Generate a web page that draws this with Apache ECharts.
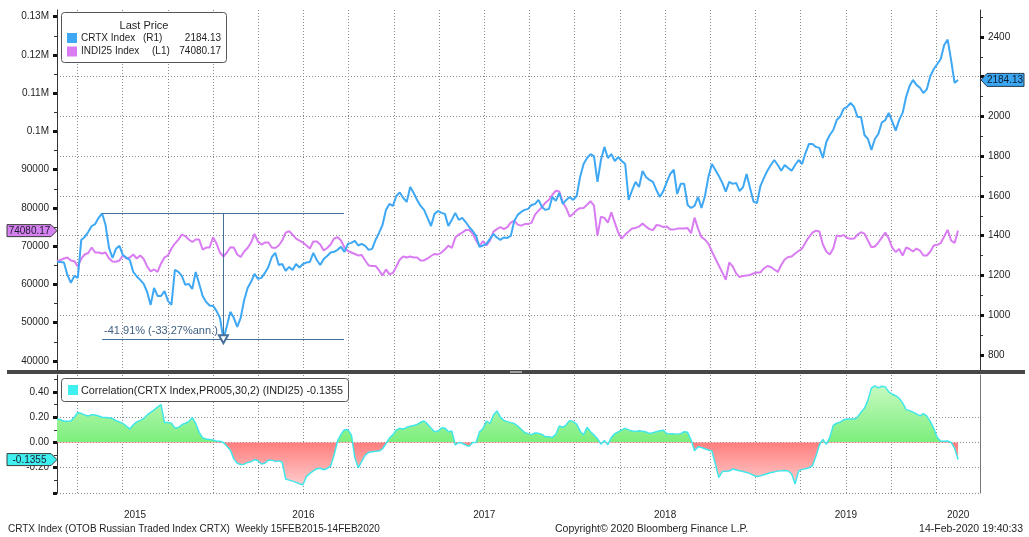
<!DOCTYPE html>
<html><head><meta charset="utf-8">
<script src="https://cdn.jsdelivr.net/npm/echarts@6/dist/echarts.min.js"></script>
<style>html,body{margin:0;padding:0;background:#fff}#c{width:1029px;height:537px}</style>
</head><body><div id="c"></div>
<script>
// ---------- DATA (weekly, Fridays) ----------
const firstWeek = '2015-02-20';
const crtx = [1268,1268,1265,1203,1163,1198,1188,1379,1394,1419,
1449,1459,1490,1513,1454,1339,1288,1334,1349,1303,
1290,1278,1218,1195,1178,1158,1117,1052,1137,1097,
1097,1122,1072,1052,1228,1218,1198,1153,1158,1132,
1218,1158,1097,1067,1049,1047,1022,987,879,946,
1017,987,941,987,1077,1137,1168,1208,1183,1188,
1213,1243,1293,1314,1253,1258,1224,1243,1228,1258,
1240,1258,1265,1268,1314,1278,1253,1283,1298,1316,
1319,1329,1344,1319,1359,1364,1374,1351,1359,1349,
1329,1334,1379,1414,1454,1530,1560,1550,1600,1618,
1590,1570,1645,1615,1580,1550,1530,1490,1449,1510,
1525,1515,1510,1449,1480,1515,1480,1490,1469,1444,
1424,1399,1344,1351,1359,1384,1409,1391,1379,1391,
1389,1399,1474,1505,1520,1530,1535,1555,1560,1580,
1545,1530,1535,1595,1575,1615,1560,1580,1595,1580,
1600,1696,1761,1791,1811,1801,1671,1781,1847,1791,
1811,1776,1796,1776,1761,1580,1630,1671,1645,1726,
1696,1681,1671,1630,1595,1625,1671,1711,1733,1610,
1661,1661,1555,1540,1550,1595,1540,1600,1696,1761,
1731,1701,1666,1622,1671,1661,1666,1625,1645,1711,
1640,1572,1565,1650,1691,1727,1756,1781,1756,1727,
1756,1741,1727,1756,1781,1761,1816,1862,1862,1847,
1842,1791,1872,1907,1932,1982,2000,2038,2048,2068,
2048,1998,1998,1907,1887,1832,1887,1912,1970,1982,
2018,1975,1929,1982,2018,2098,2153,2184,2159,2145,
2118,2138,2204,2239,2264,2289,2360,2387,2284,2169,
2184.13];
const indi25 = [66017,66407,66798,67058,66277,66095,64715,66798,67839,68230,
69662,68360,68360,68100,68360,66798,66017,65938,66277,67579,
66798,67058,67839,66798,67579,66668,64715,63413,63933,63282,
65496,67058,67579,69402,70704,71745,73047,72657,71745,71094,
71745,71745,69141,69662,69662,72344,70704,68360,67319,68360,
69740,69662,67839,67188,68621,69532,70964,73230,71225,70443,
70964,70964,69662,69532,70183,71485,73568,73907,73047,72006,
71485,70964,70183,69402,71225,71225,70443,68881,69532,70443,
72006,72396,71485,69662,68751,68360,67970,67579,67709,66277,
64975,64845,64845,63673,62371,63933,62631,63022,64715,66537,
67319,67058,67319,67058,67058,66277,66277,66798,67449,67970,
67839,68360,69141,70183,69532,72266,73047,73568,74219,74219,
73308,71485,70053,71355,70183,71485,73829,74480,75000,74480,
75000,76172,76693,75651,75391,75782,75782,76172,78255,79297,
80208,81380,82161,83463,84505,84323,81510,79948,77735,78516,
79427,79948,80000,80859,81771,80599,72787,77735,77396,76172,
78854,76172,73568,72006,73047,73829,74610,74792,75131,75912,
75131,74480,74219,75521,75391,75000,75131,74349,74349,74610,
74610,74610,74740,73386,77474,74610,72396,71745,70704,68621,
66798,64975,63152,61251,65756,64715,62892,61928,62241,62371,
62501,62892,63152,63152,64194,64845,64584,63933,63282,65105,
66537,67188,67319,68100,68751,69402,70964,72396,73568,74089,
73829,70443,68621,67839,69402,72787,72605,72917,72136,71928,
72006,73047,73646,73308,71485,69740,69923,70964,72266,73568,
72006,69662,68490,69272,67579,69662,69272,68621,69402,68881,
67579,67579,68621,70183,70365,70834,72527,74271,71485,70834,
74080.17];
const corr = [0.185,0.18,0.168,0.168,0.17,0.2,0.237,0.23,0.218,0.21,
0.22,0.218,0.21,0.2,0.198,0.195,0.19,0.172,0.163,0.15,
0.13,0.106,0.14,0.163,0.175,0.19,0.218,0.238,0.258,0.28,
0.3,0.158,0.158,0.153,0.114,0.118,0.14,0.152,0.165,0.198,
0.15,0.08,0.036,0.028,0.023,0.019,0.01,0.01,0,-0.03,
-0.06,-0.13,-0.165,-0.174,-0.172,-0.158,-0.152,-0.135,-0.145,-0.17,
-0.164,-0.14,-0.14,-0.15,-0.146,-0.155,-0.289,-0.298,-0.306,-0.316,
-0.327,-0.335,-0.27,-0.245,-0.225,-0.208,-0.204,-0.216,-0.206,-0.187,
-0.1,0.01,0.065,0.1,0.1,0.06,-0.12,-0.2,-0.15,-0.1,
-0.078,-0.074,-0.07,-0.068,-0.05,-0.01,0.035,0.06,0.1,0.11,
0.106,0.12,0.128,0.135,0.143,0.16,0.17,0.145,0.114,0.085,
0.09,0.114,0.115,0.085,0.09,-0.02,0,-0.006,-0.02,-0.03,
0,0,0.085,0.11,0.17,0.15,0.215,0.25,0.2,0.175,
0.165,0.157,0.15,0.13,0.105,0.079,0.07,0.062,0.075,0.072,
0.064,0.045,0.045,0.04,0.065,0.13,0.12,0.14,0.175,0.165,
0.145,0.09,0.06,0.12,0.085,0.06,0.03,-0.013,0.015,-0.018,
0.04,0.07,0.083,0.1,0.112,0.1,0.09,0.086,0.092,0.088,
0.083,0.072,0.077,0.085,0.093,0.097,0.07,0.068,0.068,0.066,
0.07,0.085,0.08,0.02,-0.066,-0.034,-0.04,-0.05,-0.06,-0.068,
-0.17,-0.277,-0.23,-0.228,-0.226,-0.21,-0.218,-0.224,-0.23,-0.237,
-0.247,-0.26,-0.27,-0.264,-0.256,-0.247,-0.238,-0.233,-0.225,-0.224,
-0.222,-0.226,-0.25,-0.329,-0.226,-0.213,-0.208,-0.2,-0.184,-0.11,
-0.02,0.025,-0.015,0.04,0.135,0.152,0.16,0.18,0.185,0.185,
0.185,0.2,0.24,0.27,0.335,0.43,0.448,0.432,0.445,0.44,
0.4,0.382,0.37,0.35,0.313,0.26,0.252,0.24,0.226,0.211,
0.229,0.208,0.165,0.11,0.04,0.01,0.01,0.012,0,-0.045,
-0.1355];
const yearLabels = [2015, 2016, 2017, 2018, 2019, 2020];
const leftTicks = [40000,50000,60000,70000,80000,90000,100000,110000,120000,130000];
const rightTicks = [800,1000,1200,1400,1600,1800,2000,2200,2400];
const corrTicks = [-0.4,-0.2,0,0.2,0.4];
const corrLabelTicks = [-0.2,0,0.2,0.4];
// drawdown annotation: peak date, trough date, end of guide lines
const ddDates = ['2015-05-22','2016-01-22','2016-09-22'];
const ddText = '-41.91% (-33.27%ann.)';

// ---------- helpers ----------
function fracYear(ms){const d=new Date(ms);const y=d.getUTCFullYear();const a=Date.UTC(y,0,1),b=Date.UTC(y+1,0,1);return y+(ms-a)/(b-a);}
const DAY=864e5;
const t0=Date.parse(firstWeek+'T00:00:00Z');
const xs=crtx.map((_,i)=>fracYear(t0+i*7*DAY));
const xOf=s=>fracYear(Date.parse(s+'T00:00:00Z'));
const xMin=xs[0], xMax=xs[xs.length-1]+0.1215;
const yearPos=yearLabels.map(y=>{const a=Math.max(y,xMin),b=Math.min(y+1,xMax);return (a+b)/2;});

const peakIdx=crtx.indexOf(Math.max(...crtx.slice(0,60)));
const troughIdx=crtx.indexOf(Math.min(...crtx.slice(0,120)));
const peakV=crtx[peakIdx], troughV=crtx[troughIdx];

const FONT='"Liberation Sans", Arial, sans-serif';
const TXT='#1e1e1e';
const GRIDC='#8a8a8a';
const L_MIN=37648, L_MAX=131751, R_MIN=724.5, R_MAX=2535.8, C_MIN=-0.4, C_MAX=0.534;
const G0={left:57,top:10,width:923,height:360}, G1={left:57,top:375,width:923,height:118};
const zf=C_MAX/(C_MAX-C_MIN);
const BLUE='#3ea8f4', PURPLE='#d97cf2', CYAN='#40e6ea';

const splitDots={show:true,showMinLine:false,showMaxLine:false,lineStyle:{color:GRIDC,type:[1,2],width:1}};
const lab={margin:8,fontSize:10,color:TXT,fontFamily:FONT};
const chart=echarts.init(document.getElementById('c'));
const option={
  animation:false,backgroundColor:'#fff',
  textStyle:{fontFamily:FONT},
  grid:[G0,G1],
  xAxis:[
    {gridIndex:0,type:'value',min:xMin,max:xMax,minInterval:0.25,maxInterval:0.25,
     axisLine:{show:false},axisTick:{show:false},axisLabel:{show:false},splitLine:splitDots},
    {gridIndex:1,type:'value',min:xMin,max:xMax,minInterval:0.25,maxInterval:0.25,
     axisLine:{show:false},axisTick:{show:false},
     axisLabel:Object.assign({},lab,{show:true,customValues:yearPos,formatter:v=>String(Math.floor(v+1e-9)),margin:17}),
     splitLine:splitDots}
  ],
  yAxis:[
    {gridIndex:0,type:'value',position:'left',min:L_MIN,max:L_MAX,minInterval:10000,maxInterval:10000,
     axisLine:{show:true,lineStyle:{color:'#333'}},
     axisTick:{show:true,customValues:leftTicks,length:4,lineStyle:{color:'#111',width:3}},
     minorTick:{show:true,splitNumber:2,length:3,lineStyle:{color:'#333'}},
     axisLabel:Object.assign({},lab,{customValues:leftTicks,formatter:v=>v>=100000?(v/1e6)+'M':String(v)}),
     splitLine:{show:false}},
    {gridIndex:0,type:'value',position:'right',min:R_MIN,max:R_MAX,minInterval:200,maxInterval:200,
     axisLine:{show:true,lineStyle:{color:'#333'}},
     axisTick:{show:true,customValues:rightTicks,length:4,lineStyle:{color:'#111',width:3}},
     minorTick:{show:true,splitNumber:2,length:3,lineStyle:{color:'#333'}},
     axisLabel:Object.assign({},lab,{customValues:rightTicks,formatter:v=>String(v)}),
     splitLine:splitDots},
    {gridIndex:1,type:'value',position:'left',min:C_MIN,max:C_MAX,minInterval:0.2,maxInterval:0.2,
     axisLine:{show:true,lineStyle:{color:'#333'}},
     axisTick:{show:true,customValues:corrTicks,length:4,lineStyle:{color:'#111',width:3}},
     minorTick:{show:true,splitNumber:2,length:3,lineStyle:{color:'#333'}},
     axisLabel:Object.assign({},lab,{customValues:corrLabelTicks,formatter:v=>v.toFixed(2)}),
     splitLine:{show:true,showMinLine:true,showMaxLine:false,lineStyle:{color:GRIDC,type:[1,2],width:1}}},
    {gridIndex:1,type:'value',position:'right',min:C_MIN,max:C_MAX,
     axisLine:{show:true,lineStyle:{color:'#777'}},axisTick:{show:false},axisLabel:{show:false},splitLine:{show:false}}
  ],
  series:[
    {name:'CRTX Index',type:'line',xAxisIndex:0,yAxisIndex:1,data:xs.map((x,i)=>[x,crtx[i]]),
     showSymbol:false,lineStyle:{color:BLUE,width:2},itemStyle:{color:BLUE},z:3,
     markLine:{silent:true,symbol:['none','none'],animation:false,
       lineStyle:{color:'#46709a',width:1,type:'solid',opacity:1},label:{show:false},emphasis:{disabled:true},
       data:[
         [{coord:[xOf(ddDates[0]),peakV]},{coord:[xOf(ddDates[2]),peakV]}],
         [{coord:[xOf(ddDates[0]),troughV],label:{show:true,position:'insideStartTop',formatter:ddText,color:'#3f5f82',fontSize:11,fontFamily:FONT,distance:[2,3]}},{coord:[xOf(ddDates[2]),troughV]}],
         [{coord:[xOf(ddDates[1]),peakV],symbol:'none'},{coord:[xOf(ddDates[1]),troughV],symbol:'emptyTriangle',symbolSize:[9,8]}]
       ]}},
    {name:'INDI25 Index',type:'line',xAxisIndex:0,yAxisIndex:0,data:xs.map((x,i)=>[x,indi25[i]]),
     showSymbol:false,lineStyle:{color:PURPLE,width:2},itemStyle:{color:PURPLE},z:2},
    {name:'Correlation',type:'line',xAxisIndex:1,yAxisIndex:2,data:xs.map((x,i)=>[x,corr[i]]),
     showSymbol:false,lineStyle:{color:CYAN,width:1.5},itemStyle:{color:CYAN},
     areaStyle:{origin:'auto',opacity:1,color:{type:'linear',x:0,y:G1.top,x2:0,y2:G1.top+G1.height,global:true,
       colorStops:[{offset:0,color:'#d4fbcc'},{offset:zf,color:'#7cee7c'},{offset:zf,color:'#ff7e7e'},{offset:1,color:'#ffdada'}]}}}
  ]
};
chart.setOption(option);

// ---------- overlays: legends, value tags, footer ----------
function txt(text,x,y,align,fill,size){return {type:'text',silent:true,z:100,style:{text,x,y,font:(size||10.5)+'px '+FONT,fill:fill||TXT,align:align||'left',verticalAlign:'middle'}};}
function tagLeft(cy,fill,text){return [
  {type:'polygon',silent:true,z:100,shape:{points:[[7,cy-6],[51,cy-6],[57,cy],[51,cy+6],[7,cy+6]]},style:{fill,stroke:'#3a3a3a',lineWidth:1}},
  txt(text,29.5,cy+0.5,'center','#1a1a2a',10)];}
function tagRight(cy,fill,text){return [
  {type:'rect',silent:true,z:99,shape:{x:984,y:cy-10,width:42,height:5},style:{fill:'#fff'}},
  {type:'polygon',silent:true,z:100,shape:{points:[[981,cy],[987,cy-6.5],[1024,cy-6.5],[1024,cy+6.5],[987,cy+6.5]]},style:{fill,stroke:'#2a3a4a',lineWidth:1}},
  txt(text,1005,cy+0.5,'center','#0c1a2c',10)];}
const last=crtx.length-1;
const yPur=chart.convertToPixel({yAxisIndex:0},indi25[last]);
const yBlu=chart.convertToPixel({yAxisIndex:1},crtx[last]);
const yCy=chart.convertToPixel({yAxisIndex:2},corr[last]);
const g=[
  {type:'rect',silent:true,z:90,shape:{x:7,y:370,width:1018,height:4},style:{fill:'#474747'}},
  {type:'rect',silent:true,z:91,shape:{x:510,y:371,width:12,height:2},style:{fill:'#a0a0a0'}},
  {type:'rect',silent:true,z:99,shape:{x:61.5,y:12.5,width:165,height:50,r:3},style:{fill:'#fff',stroke:'#555',lineWidth:1}},
  txt('Last Price',144,25.5,'center',TXT,11),
  {type:'rect',silent:true,z:100,shape:{x:67,y:33,width:10,height:10},style:{fill:BLUE}},
  txt('CRTX Index',81,38.5,'left',TXT,10), txt('(R1)',143,38.5,'left',TXT,10), txt(String(crtx[last]),221,38.5,'right',TXT,10),
  {type:'rect',silent:true,z:100,shape:{x:67,y:46.5,width:10,height:10},style:{fill:PURPLE}},
  txt('INDI25 Index',81,51.7,'left',TXT,10), txt('(L1)',152,51.7,'left',TXT,10), txt(String(indi25[last]),221,51.7,'right',TXT,10),
  {type:'rect',silent:true,z:99,shape:{x:61.5,y:378.5,width:287,height:23,r:3},style:{fill:'#fff',stroke:'#555',lineWidth:1}},
  {type:'rect',silent:true,z:100,shape:{x:68,y:385,width:10,height:10},style:{fill:'#3ff0f0'}},
  txt('Correlation(CRTX Index,PR005,30,2) (INDI25) '+corr[last].toFixed(4),81,391,'left',TXT,10.8),
  ...tagLeft(yPur,'#d681f0',indi25[last].toFixed(2)),
  ...tagRight(yBlu,'#3ba6f2',crtx[last].toFixed(2)),
  ...tagLeft(yCy,'#40f0f0',corr[last].toFixed(4)),
  txt('CRTX Index (OTOB Russian Traded Index CRTX)  Weekly 15FEB2015-14FEB2020',8,529,'left',TXT,10),
  txt('Copyright\u00a9 2020 Bloomberg Finance L.P.',555,529,'left',TXT,10.5),
  txt('14-Feb-2020 19:40:33',1023,529,'right',TXT,10.5)
];
chart.setOption({graphic:g});
</script>
</body></html>
